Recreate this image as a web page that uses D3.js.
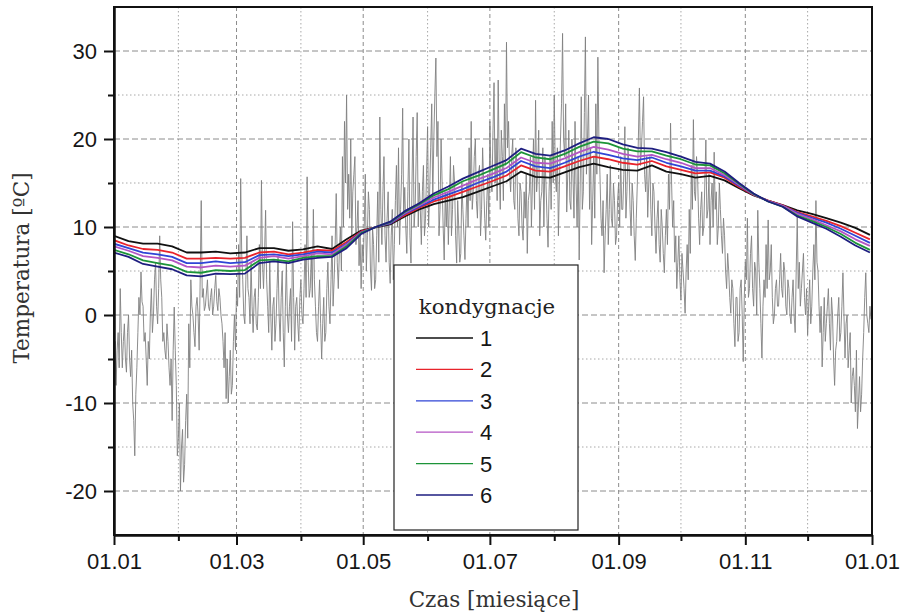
<!DOCTYPE html>
<html><head><meta charset="utf-8">
<script src="https://cdn.jsdelivr.net/npm/d3@7"></script>
<style>body{margin:0;background:#fff}</style>
</head><body><svg id="c" width="903" height="614"></svg>
<script>
// ---- data ----
const startDate = new Date(2013, 0, 1);
const endDate = new Date(2014, 0, 1);
// outdoor temperature, day readings (day 0 = 1 Jan)
const outdoorDay = [
 -5,-8,-2,3,-6,-1,-6.5,0,-7,-10,
 -16,-6,2,4.9,1,-2,-8,-5,3,0,
 6,-1,9,2,-2,-5,-3,-8,-12,0.9,
 -8,-14,-20,-13,-17,-9,-1,4,0,-3.6,
 2,-4,13,3,1,4,0.5,3,1,4.5,
 0.5,2,-1,-6,-9.5,-10,-4,-8,0,3,
 8,15.5,4,-1,9,2,6,-2,3,-1.7,
 8,15.3,3,11.9,1,6,-4,2,-1,6.6,
 -3,5,-5.9,6,-2,3,10.6,-4,2,-3,
 4,-1,8,15.7,2,7,12,1,-3,4,
 -5,2,-2,6,-1,9,4,13.8,3,10,
 18,22,25,16,20,14,18,10,5.6,3,
 6,16,9,12,2.8,8,4,14,22.5,8,
 18,6,14,3.6,12,8,17,19,12,23.5,
 14.5,7,20,5.9,22.5,12,23,15,8,17,
 11,21.4,14,24,20,29.2,22,12,15,6.25,
 10,8,18,12,15,5.9,10,7,12,6.3,
 15,19,22,14,20,11,17,12,15,8.5,
 16,22,14,26.4,20,26.7,12,18,24,31,
 22,14,20,12,17,9,14,8.5,11,7,
 14,10,20,24.4,16,9,14,10,15,7.7,
 18,22,25,14,9,20,32,18,11.7,21,
 12,16,22,10,6.25,24.8,14,31.6,20,12,
 8,18,24,29.3,16,9,4.8,12,8,17,
 10,13,9,15,18,12,21.4,14,17,9,
 13,6.2,15,25.8,19,24.8,14,11.1,18,9,
 14,7,13,6,10,4.8,12,16,21.8,10,
 6,3,9,1.7,5,0.2,8,12,17,22.2,
 13,16,8,14,10,19.9,12,8,15,18.5,
 14,10,12,7,9,3,5,0.2,3,-3.6,
 2,-2,4,-5.3,6,11,3,9,1,5,
 11.9,3,-4.9,4,8,10.8,5,2,0,4,
 1,7,2,5,0,3,-1,4,-2,11.2,
 6,3,7,0,-2.3,4,1,8,13,5,
 -2,-5.9,2,-1,3,-4,0,-8,-3,2,
 -2,4.8,-4.9,0,-4,-10,-6,-11,-12.9,-7,
 -9,-2,4.8,-1,1
];
// outdoor temperature, night readings (12 h after each day reading)
const outdoorNight = [
 -3,-4,-6,-2,-3,-5,-2,-5,-4,-12,
 -9,-2,0,1.5,-3,-5,-3,0,-2,4,
 1,3,4,-3,-4,-1,-6,-5,-4,-4,
 -16,-10,-15,-19,-12,-14,-6,1,-2,1,
 0,4,2,0.5,2.5,1,2,0,3,1.5,
 3,0,-3,-2,-5,-7,-9,-3,-4,1,
 2,7,0,4,3,-1,1,2,-1,2,
 3,6,7,4,-2,0,1,-3,3,0,
 2,-2,1,0,1,-3,2,1,-1,2,
 0,3,2,6,3,2,4,-2,1,-1,
 -1,-3,3,1,4,1,8,6,7,5,
 10,15,12,11,9,16,8,13,9,8,
 10,5,14,5,10,3,9,6,12,14,
 9,11,6,9,4,13,10,8,16,11,
 10,14,9,15,10,18,10,12,14,9,
 16,10,19,13,25,18,9,20,10,14,
 14,13,9,17,9,13,6,15,9,11,
 10,13,12,18,13,16,9,19,11,13,
 10,16,21,15,13,17,21,13,17,19,
 16,18,13,19,11,15,10,14,16,13,
 18,15,12,14,21,13,19,18,11,14,
 12,15,16,19,15,24,20,24,16,13,
 20,11,15,18,15,12,23,16,25,19,
 13,11,16,20,11,13,9,16,12,11,
 15,8,13,10,12,16,11,19,12,15,
 9,11,20,17,22,16,18,15,12,15,
 10,11,8,12,7,9,8,12,15,13,
 9,6,4,7,3,5,4,7,12,14,
 18,11,12,9,15,11,16,13,10,12,
 8,15,9,11,5,7,2,4,-1,2,
 -3,3,0,2,4,2,7,3,6,0,
 6,-1,1,2,3,4,8,-1,3,1,
 4,3,6,1,4,0,2,0,5,3,
 1,5,2,3,1,-1,5,4,6,1,
 1,-2,-3,1,-1,2,-5,-4,0,-3,
 1,0,-1,-6,-2,-7,-8,-4,-10,-11,
 -5,2,0,-2,-0.5
];
// weekly indoor temperatures per storey (week 0 = 1 Jan)
const floor1 = [9.0,8.4,8.1,8.1,7.8,7.1,7.1,7.2,7.0,7.1,7.6,7.6,7.3,7.45,7.8,7.5,8.6,9.6,9.95,10.3,11.2,12.0,12.6,13.0,13.4,14.0,14.6,15.2,16.3,15.7,15.6,16.2,16.8,17.2,16.8,16.5,16.4,17.0,16.3,16.0,15.6,15.8,15.3,14.4,13.6,13.0,12.5,11.9,11.5,11.0,10.5,9.9,9.1];
const floor2 = [8.5,7.9,7.5,7.4,7.1,6.4,6.4,6.5,6.4,6.5,7.1,7.2,6.9,7.1,7.4,7.3,8.3,9.5,10.0,10.4,11.35,12.2,12.9,13.4,14.0,14.6,15.2,15.85,17.0,16.4,16.3,16.9,17.5,18.0,17.7,17.3,17.1,17.5,16.9,16.5,16.1,16.2,15.6,14.55,13.65,13.0,12.45,11.7,11.2,10.7,10.1,9.35,8.6];
const floor3 = [8.1,7.6,7.1,6.9,6.6,5.9,5.9,6.1,5.9,6.0,6.8,6.9,6.7,6.9,7.2,7.1,8.1,9.4,10.0,10.4,11.5,12.3,13.1,13.7,14.3,15.0,15.6,16.3,17.5,16.9,16.7,17.3,18.0,18.55,18.2,17.8,17.6,17.9,17.3,16.9,16.4,16.4,15.75,14.7,13.7,12.95,12.4,11.6,11.05,10.5,9.8,9.0,8.2];
const floor4 = [7.8,7.3,6.7,6.5,6.2,5.5,5.4,5.6,5.5,5.6,6.5,6.7,6.4,6.7,7.0,6.9,8.0,9.35,10.0,10.5,11.6,12.45,13.35,14.0,14.7,15.4,16.0,16.7,17.9,17.3,17.2,17.8,18.5,19.1,18.8,18.3,18.0,18.2,17.7,17.3,16.7,16.7,15.9,14.8,13.7,12.95,12.4,11.5,10.9,10.2,9.5,8.6,7.85];
const floor5 = [7.4,6.9,6.2,5.9,5.6,4.9,4.8,5.1,5.0,5.1,6.2,6.3,6.1,6.5,6.7,6.7,7.8,9.3,10.0,10.55,11.7,12.6,13.6,14.3,15.2,15.8,16.5,17.2,18.5,17.9,17.7,18.3,19.1,19.7,19.5,18.9,18.6,18.6,18.1,17.7,17.1,17.0,16.1,14.9,13.75,12.9,12.3,11.3,10.7,10.0,9.2,8.2,7.4];
const floor6 = [7.1,6.6,5.8,5.5,5.2,4.5,4.4,4.7,4.65,4.7,5.9,6.1,5.9,6.3,6.5,6.6,7.6,9.2,10.0,10.6,11.8,12.7,13.8,14.6,15.5,16.2,16.9,17.6,18.9,18.3,18.1,18.7,19.5,20.2,20.0,19.4,19.0,18.9,18.5,18.0,17.4,17.2,16.3,15.0,13.8,12.9,12.3,11.2,10.5,9.8,8.9,7.9,7.1];
const floorNames = ["1","2","3","4","5","6"];
const floorColors = ["#111111","#e8232b","#2f45d6","#b455c4","#1c9438","#1e1e80"];
const yMajorTicks = [-20,-10,0,10,20,30];
const yMinorTicks = [-15,-5,5,15,25];
const xMajorMonths = [0,2,4,6,8,10,12];
const xMinorMonths = [1,3,5,7,9,11];
const legendTitle = "kondygnacje";
const xTitle = "Czas [miesiące]";
const yTitle = "Temperatura [ºC]";

// ---- chart ----
const svg = d3.select("#c");
const L = 114, R = 872, T = 7, B = 535;
const x = d3.scaleTime().domain([startDate, endDate]).range([L, R]);
const y = d3.scaleLinear().domain([-25, 35]).range([B, T]);
const monthDate = m => new Date(2013, m, 1);
const serif = "'DejaVu Serif', 'Liberation Serif', serif";
const sans = "'Liberation Sans', Arial, sans-serif";

// grid
const g = svg.append("g");
d3.range(1, 12).forEach(m => {
  const major = m % 2 === 0;
  g.append("line").attr("x1", x(monthDate(m))).attr("x2", x(monthDate(m)))
   .attr("y1", T).attr("y2", B)
   .attr("stroke", major ? "#8c8c8c" : "#a8a8a8").attr("stroke-width", 1)
   .attr("stroke-dasharray", major ? "4,3" : "1.5,2.5");
});
d3.range(-20, 35, 5).forEach(v => {
  const major = v % 10 === 0;
  g.append("line").attr("x1", L).attr("x2", R).attr("y1", y(v)).attr("y2", y(v))
   .attr("stroke", major ? "#8c8c8c" : "#a8a8a8").attr("stroke-width", 1)
   .attr("stroke-dasharray", major ? "6,3" : "1.5,2.5");
});

svg.append("clipPath").attr("id","clip").append("rect")
  .attr("x", L).attr("y", T).attr("width", R - L).attr("height", B - T);
const plot = svg.append("g").attr("clip-path", "url(#clip)");

const outdoorData = [];
outdoorDay.forEach((v, i) => {
  const d0 = d3.timeDay.offset(startDate, i);
  outdoorData.push({d: d0, v});
  if (i < outdoorNight.length) outdoorData.push({d: d3.timeHour.offset(d0, 12), v: outdoorNight[i]});
});
const line = d3.line().x(p => x(p.d)).y(p => y(p.v));
plot.append("path").datum(outdoorData).attr("d", line)
  .attr("fill", "none").attr("stroke", "#808080").attr("stroke-width", 0.9);

const floors = [floor1, floor2, floor3, floor4, floor5, floor6];
floors.forEach((arr, k) => {
  const data = arr.map((v, i) => ({d: d3.timeDay.offset(startDate, i * 7), v}));
  plot.append("path").datum(data).attr("d", line)
    .attr("fill", "none").attr("stroke", floorColors[k]).attr("stroke-width", 1.8)
    .attr("stroke-linejoin", "round");
});

// frame
svg.append("rect").attr("x", L).attr("y", T).attr("width", R - L).attr("height", B - T)
  .attr("fill", "none").attr("stroke", "#111").attr("stroke-width", 2);

// axes
const fmt = d3.timeFormat("%d.%m");
svg.append("g").attr("transform", `translate(0,${B})`)
  .call(d3.axisBottom(x).tickValues(xMajorMonths.map(monthDate)).tickFormat(fmt)
        .tickSize(10).tickSizeOuter(0).tickPadding(8));
svg.append("g").attr("transform", `translate(0,${B})`)
  .call(d3.axisBottom(x).tickValues(xMinorMonths.map(monthDate)).tickFormat("")
        .tickSize(6).tickSizeOuter(0));
svg.append("g").attr("transform", `translate(${L},0)`)
  .call(d3.axisLeft(y).tickValues(yMajorTicks).tickFormat(d => String(d))
        .tickSize(10).tickSizeOuter(0).tickPadding(7));
svg.append("g").attr("transform", `translate(${L},0)`)
  .call(d3.axisLeft(y).tickValues(yMinorTicks).tickFormat("").tickSize(6).tickSizeOuter(0));
svg.selectAll(".domain").attr("stroke", "#111").attr("stroke-width", 2);
svg.selectAll(".tick line").attr("stroke", "#111").attr("stroke-width", 2);
svg.selectAll(".tick text").attr("font-family", sans)
  .attr("font-size", 22).attr("fill", "#161616");

// titles
svg.append("text").attr("x", 494).attr("y", 607).attr("text-anchor", "middle")
  .attr("font-family", serif).attr("font-size", 21.5)
  .attr("fill", "#333").text(xTitle);
svg.append("text").attr("transform", "translate(29,268) rotate(-90)").attr("text-anchor", "middle")
  .attr("font-family", serif).attr("font-size", 21.5)
  .attr("fill", "#333").text(yTitle);

// legend
const lg = svg.append("g");
lg.append("rect").attr("x", 394).attr("y", 265).attr("width", 184).attr("height", 265)
  .attr("fill", "#fff").attr("stroke", "#222").attr("stroke-width", 1.2);
lg.append("text").attr("x", 487).attr("y", 314).attr("text-anchor", "middle")
  .attr("font-family", serif).attr("font-size", 21.3)
  .attr("fill", "#222").text(legendTitle);
floorNames.forEach((n, k) => {
  const yy = 338 + k * 31.4;
  lg.append("line").attr("x1", 416).attr("x2", 473).attr("y1", yy).attr("y2", yy)
    .attr("stroke", floorColors[k]).attr("stroke-width", 1.3);
  lg.append("text").attr("x", 480).attr("y", yy + 8)
    .attr("font-family", sans).attr("font-size", 22)
    .attr("fill", "#161616").text(n);
});
</script></body></html>
